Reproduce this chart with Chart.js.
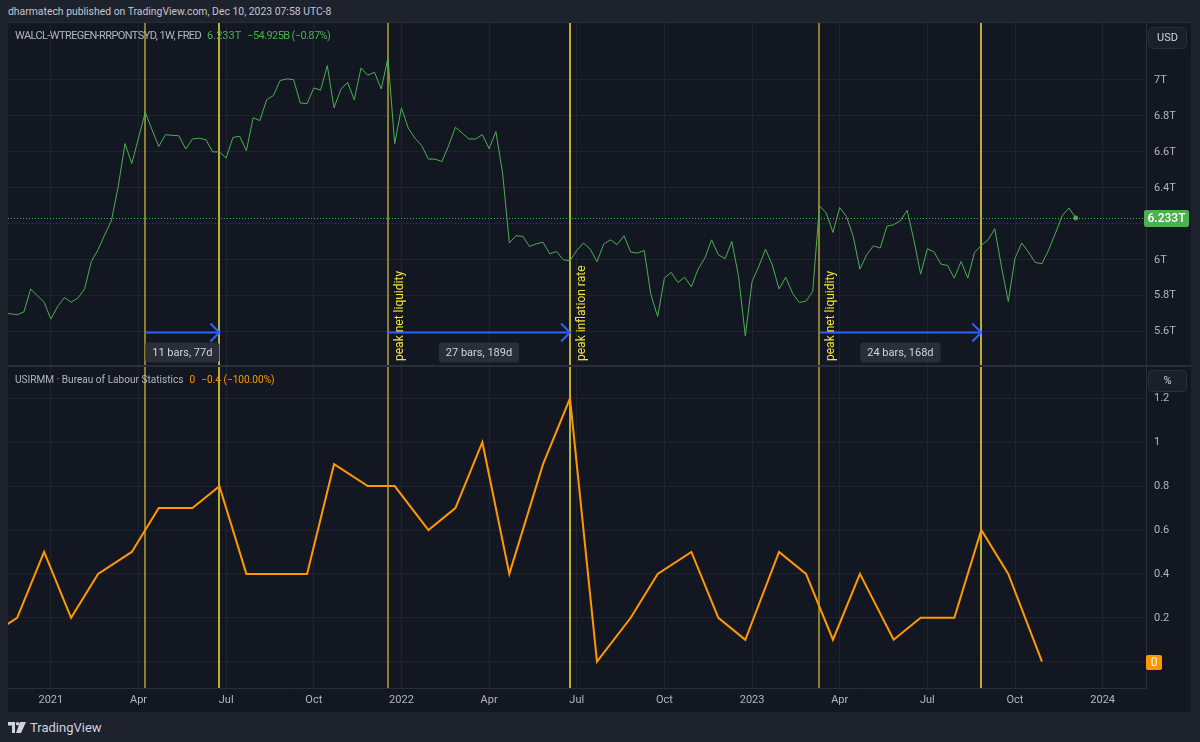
<!DOCTYPE html>
<html>
<head>
<meta charset="utf-8">
<title>Net liquidity vs inflation rate</title>
<script src="https://cdn.jsdelivr.net/npm/chart.js@4.4.1/dist/chart.umd.min.js"></script>
<style>
  html, body { margin: 0; padding: 0; }
  body { width: 1200px; height: 742px; background: #1e222d; position: relative; overflow: hidden;
         font-family: Roboto, "Noto Sans", sans-serif; }
  #frame { position: absolute; left: 8px; top: 22px; width: 1183px; height: 690px; background: #2a2e39; }
  canvas { position: absolute; left: 8px; background: #131722; }
  #top { top: 23px; }
  #bottom { top: 367px; }
  .txt { position: absolute; white-space: pre; line-height: 14px; color: #b2b5be; }
  #header { left: 8px; top: 5px; font-size: 10.4px; color: #c3c6ce; }
  #legendTop { left: 15px; top: 29px; font-size: 11px; }
  #nlName { letter-spacing: -0.6px; }
  #nlChange { letter-spacing: -0.6px; }
  #legendBottom { left: 15px; top: 373px; font-size: 10.1px; }
  .txt span + span { margin-left: 6px; }
  .up { color: #4caf50; }
  .orange { color: #ff9800; }
  #footer { position: absolute; left: 8px; top: 720px; height: 14px; display: flex; align-items: center;
            color: #d1d4dc; font-size: 13px; }
  #footer svg { margin-right: 4px; }
</style>
</head>
<body>
<div id="header" class="txt"></div>
<div id="frame"></div>
<canvas id="top" width="1183" height="342"></canvas>
<canvas id="bottom" width="1183" height="345"></canvas>
<div id="legendTop" class="txt"><span id="nlName"></span><span class="up" id="nlLast"></span><span class="up" id="nlChange"></span></div>
<div id="legendBottom" class="txt"><span id="irName"></span><span class="orange" id="irLast"></span><span class="orange" id="irChange"></span></div>
<div id="footer">
  <svg width="18" height="11" viewBox="0 0 18 11"><path d="M0 0H7V11H4V3.5H0Z M12 0H18L13 11H8Z" fill="#d1d4dc"/><circle cx="9.6" cy="1.8" r="1.8" fill="#d1d4dc"/></svg>
  <span id="brand"></span>
</div>
<script>
const headerText = 'dharmatech published on TradingView.com, Dec 10, 2023 07:58 UTC-8';
const brandText = 'TradingView';
const nlName = 'WALCL-WTREGEN-RRPONTSYD, 1W, FRED';
const nlLast = '6.233T';
const nlChange = '\u221254.925B (\u22120.87%)';
const irName = 'USIRMM \u00b7 Bureau of Labour Statistics';
const irLast = '0';
const irChange = '\u22120.4 (\u2212100.00%)';

// weekly net liquidity, trillions USD, one value per Monday from weekStart
const weekStart = '2020-11-16';
const netLiquidity = [
  5.70, 5.70, 5.694, 5.71, 5.837, 5.80, 5.764, 5.67, 5.74, 5.79,
  5.764, 5.787, 5.837, 5.99, 6.056, 6.14, 6.22, 6.41, 6.646, 6.535,
  6.677, 6.82, 6.724, 6.63, 6.696, 6.692, 6.69, 6.616, 6.672, 6.676,
  6.668, 6.60, 6.60, 6.566, 6.68, 6.687, 6.607, 6.79, 6.774, 6.89,
  6.913, 6.997, 7.006, 7.002, 6.872, 6.869, 6.956, 6.943, 7.08, 6.845,
  6.947, 6.987, 6.89, 7.067, 7.026, 7.043, 6.95, 7.123, 6.646, 6.845,
  6.733, 6.677, 6.635, 6.56, 6.56, 6.546, 6.635, 6.737, 6.705, 6.672,
  6.672, 6.696, 6.618, 6.713, 6.483, 6.093, 6.134, 6.13, 6.074, 6.089,
  6.097, 6.033, 6.046, 6.0, 5.994, 6.052, 6.093, 6.059, 5.99, 6.087,
  6.111, 6.084, 6.134, 6.043, 6.037, 6.052, 5.805, 5.684, 5.898, 5.93,
  5.874, 5.903, 5.85, 5.948, 6.009, 6.111, 6.028, 6.006, 6.102, 5.907,
  5.577, 5.879, 5.963, 6.059, 5.972, 5.837, 5.903, 5.814, 5.762, 5.77,
  5.824, 6.30, 6.26, 6.152, 6.291, 6.241, 6.13, 5.948, 6.028, 6.078,
  6.065, 6.186, 6.195, 6.217, 6.275, 6.111, 5.92, 6.061, 6.043, 5.976,
  5.968, 5.898, 5.99, 5.898, 6.041, 6.08, 6.111, 6.173, 5.959, 5.768,
  6.009, 6.093, 6.043, 5.985, 5.978, 6.056, 6.148, 6.245, 6.288, 6.233
];

// monthly inflation rate, %
const inflationMonths = [
  '2020-10', '2020-11', '2020-12', '2021-01', '2021-02', '2021-03', '2021-04', '2021-05', '2021-06',
  '2021-07', '2021-08', '2021-09', '2021-10', '2021-11', '2021-12', '2022-01', '2022-02', '2022-03',
  '2022-04', '2022-05', '2022-06', '2022-07', '2022-08', '2022-09', '2022-10', '2022-11', '2022-12',
  '2023-01', '2023-02', '2023-03', '2023-04', '2023-05', '2023-06', '2023-07', '2023-08', '2023-09',
  '2023-10'
];
const inflationRate = [
  0.1, 0.2, 0.5, 0.2, 0.4, 0.5, 0.7, 0.7, 0.8,
  0.4, 0.4, 0.4, 0.9, 0.8, 0.8, 0.6, 0.7, 1.0,
  0.4, 0.9, 1.2, 0.0, 0.2, 0.4, 0.5, 0.2, 0.1,
  0.5, 0.4, 0.1, 0.4, 0.1, 0.2, 0.2, 0.6, 0.4,
  0.0
];

const xTickDates = ['2021-01-04', '2021-04-05', '2021-07-05', '2021-10-04', '2022-01-03', '2022-04-04',
  '2022-07-04', '2022-10-03', '2023-01-02', '2023-04-03', '2023-07-03', '2023-10-02', '2024-01-01'];
const xTickLabels = ['2021', 'Apr', 'Jul', 'Oct', '2022', 'Apr', 'Jul', 'Oct', '2023', 'Apr', 'Jul', 'Oct', '2024'];
const usdTicks = [5.6, 5.8, 6, 6.2, 6.4, 6.6, 6.8, 7];
const pctTicks = [0, 0.2, 0.4, 0.6, 0.8, 1, 1.2];

// measured spans (start bar -> end bar) and the notes on them
const spanStarts = ['2021-04-12', '2021-12-20', '2023-03-13'];
const spanEnds = ['2021-06-28', '2022-06-27', '2023-08-28'];
const spanLabels = ['11 bars, 77d', '27 bars, 189d', '24 bars, 168d'];
const noteDates = ['2021-12-20', '2022-06-27', '2023-03-13'];
const noteTexts = ['peak net liquidity', 'peak inflation rate', 'peak net liquidity'];
const arrowLevel = 5.6;

const GRID = 'rgba(42,46,57,0.55)', BORDER = '#2a2e39', TXT = '#b2b5be';
const GREEN = '#4caf50', ORANGE = '#ff9800', BLUE = '#2962ff';
const YEL_DIM = '#b3a233', YEL = '#f2e23a';
const FONT = 'Roboto, "Noto Sans", sans-serif';

document.getElementById('header').textContent = headerText;
document.getElementById('brand').textContent = brandText;
document.getElementById('nlName').textContent = nlName;
document.getElementById('nlLast').textContent = nlLast;
document.getElementById('nlChange').textContent = nlChange;
document.getElementById('irName').textContent = irName;
document.getElementById('irLast').textContent = irLast;
document.getElementById('irChange').textContent = irChange;

const DAY = 86400000;
const EPOCH = Date.UTC(2021, 0, 1);
function dayOf(s) {
  const [y, m, d] = s.split('-').map(Number);
  return (Date.UTC(y, m - 1, d) - EPOCH) / DAY;
}
// a monthly print sits on the weekly bar (Monday) holding the month's last day
function monthBar(s) {
  const [y, m] = s.split('-').map(Number);
  const last = new Date(Date.UTC(y, m, 0));
  return (last.getTime() - EPOCH) / DAY - (last.getUTCDay() + 6) % 7;
}

Chart.defaults.font.family = FONT;
Chart.defaults.font.size = 11;
Chart.defaults.color = TXT;

function xAxis(showLabels) {
  return {
    type: 'linear', min: -41.5, max: 1140, bounds: 'data',
    afterBuildTicks: s => { s.ticks = xTickDates.map(d => ({ value: dayOf(d) })); },
    afterFit: s => { s.height = showLabels ? 24 : 0; s.paddingLeft = 0; s.paddingRight = 0; },
    grid: { color: GRID, drawTicks: false },
    border: { display: showLabels, color: BORDER },
    ticks: { display: showLabels, autoSkip: false, maxRotation: 0, padding: 6, color: TXT,
             callback: (v, i) => xTickLabels[i] }
  };
}
function yAxis(min, max, ticks, fmt) {
  return {
    position: 'right', min: min, max: max, bounds: 'data',
    afterBuildTicks: s => { s.ticks = ticks.map(v => ({ value: v })); },
    afterFit: s => { s.width = 45; s.paddingTop = 0; s.paddingBottom = 0; },
    grid: { color: GRID, drawTicks: false },
    border: { color: BORDER },
    ticks: { color: TXT, padding: 8, callback: fmt }
  };
}

// vertical yellow lines at every span start / end, through the whole pane
function drawMarkers(chart) {
  const { ctx, chartArea: a, scales: { x } } = chart;
  ctx.save();
  ctx.lineWidth = 1.5;
  spanStarts.forEach((d, i) => {
    [[d, YEL_DIM], [spanEnds[i], YEL]].forEach(([day, color]) => {
      const px = Math.round(x.getPixelForValue(dayOf(day)));
      ctx.strokeStyle = color;
      ctx.beginPath(); ctx.moveTo(px, a.top); ctx.lineTo(px, a.bottom); ctx.stroke();
    });
  });
  ctx.restore();
}

function axisBadge(ctx, text, x, y, w, h, fill, bold) {
  ctx.save();
  ctx.fillStyle = fill;
  ctx.beginPath(); ctx.roundRect(x, y, w, h, 2); ctx.fill();
  ctx.fillStyle = '#ffffff';
  ctx.font = (bold ? '500 ' : '') + '12px ' + FONT;
  ctx.textAlign = 'center'; ctx.textBaseline = 'middle';
  ctx.fillText(text, x + w / 2, y + h / 2 + 0.5);
  ctx.restore();
}
function unitBox(ctx, text, x, y) {
  ctx.save();
  ctx.fillStyle = '#1b1f2a';
  ctx.strokeStyle = BORDER;
  ctx.beginPath(); ctx.roundRect(x + 0.5, y + 0.5, 38, 21, 4); ctx.fill(); ctx.stroke();
  ctx.fillStyle = '#d1d4dc';
  ctx.font = '11px ' + FONT;
  ctx.textAlign = 'center'; ctx.textBaseline = 'middle';
  ctx.fillText(text, x + 19.5, y + 11.5);
  ctx.restore();
}

const topOverlay = {
  id: 'topOverlay',
  beforeDatasetsDraw(chart) {
    drawMarkers(chart);
    const { ctx, chartArea: a, scales: { y } } = chart;
    const ly = Math.round(y.getPixelForValue(netLiquidity[netLiquidity.length - 1])) + 0.5;
    ctx.save();
    ctx.strokeStyle = GREEN; ctx.lineWidth = 1; ctx.setLineDash([1, 2]);
    ctx.beginPath(); ctx.moveTo(a.left, ly); ctx.lineTo(a.right, ly); ctx.stroke();
    ctx.restore();
  },
  afterDatasetsDraw(chart) {
    const { ctx, chartArea: a, scales: { x, y } } = chart;
    const ay = Math.round(y.getPixelForValue(arrowLevel)) + 0.5;
    ctx.save();
    spanStarts.forEach((d, i) => {
      const x0 = x.getPixelForValue(dayOf(d));
      const x1 = x.getPixelForValue(dayOf(spanEnds[i]));
      ctx.strokeStyle = BLUE; ctx.lineWidth = 2;
      ctx.beginPath(); ctx.moveTo(x0, ay); ctx.lineTo(x1, ay); ctx.stroke();
      ctx.beginPath(); ctx.moveTo(x1 - 9, ay - 9); ctx.lineTo(x1, ay); ctx.lineTo(x1 - 9, ay + 9); ctx.stroke();
      ctx.font = '11px ' + FONT;
      const w = ctx.measureText(spanLabels[i]).width + 14;
      const cx = (x0 + x1) / 2;
      ctx.fillStyle = '#2a2e39';
      ctx.beginPath(); ctx.roundRect(cx - w / 2, ay + 10, w, 20, 3); ctx.fill();
      ctx.fillStyle = '#d1d4dc';
      ctx.textAlign = 'center'; ctx.textBaseline = 'middle';
      ctx.fillText(spanLabels[i], cx, ay + 20.5);
    });
    ctx.fillStyle = YEL;
    ctx.font = '12px ' + FONT;
    ctx.textAlign = 'left'; ctx.textBaseline = 'middle';
    noteDates.forEach((d, i) => {
      const px = x.getPixelForValue(dayOf(d));
      ctx.save();
      ctx.translate(px + 12, a.bottom - 4);
      ctx.rotate(-Math.PI / 2);
      ctx.fillText(noteTexts[i], 0, 0);
      ctx.restore();
    });
    ctx.restore();
  },
  afterDraw(chart) {
    const { ctx, chartArea: a, scales: { y } } = chart;
    unitBox(ctx, 'USD', a.right + 2, 4);
    const ly = y.getPixelForValue(netLiquidity[netLiquidity.length - 1]);
    axisBadge(ctx, nlLast, a.right - 2, Math.round(ly) - 8, 45, 17, GREEN, true);
  }
};

const bottomOverlay = {
  id: 'bottomOverlay',
  beforeDatasetsDraw(chart) { drawMarkers(chart); },
  afterDraw(chart) {
    const { ctx, chartArea: a, scales: { y } } = chart;
    unitBox(ctx, '%', a.right + 2, 3);
    const ly = y.getPixelForValue(inflationRate[inflationRate.length - 1]);
    axisBadge(ctx, irLast, a.right, Math.round(ly) - 7, 16, 15, ORANGE, false);
  }
};

const baseOptions = {
  responsive: false, animation: false, events: [],
  layout: { padding: 0, autoPadding: false },
  plugins: { legend: { display: false }, tooltip: { enabled: false } }
};

new Chart(document.getElementById('top'), {
  type: 'line',
  data: {
    datasets: [{
      label: nlName,
      data: netLiquidity.map((v, i) => ({ x: dayOf(weekStart) + 7 * i, y: v })),
      borderColor: GREEN, backgroundColor: GREEN, borderWidth: 1, tension: 0,
      pointRadius: c => (c.dataIndex === netLiquidity.length - 1 ? 2 : 0)
    }]
  },
  options: Object.assign({}, baseOptions, {
    scales: {
      x: xAxis(false),
      y: yAxis(5.4147, 7.317, usdTicks, v => v + 'T')
    }
  }),
  plugins: [topOverlay]
});

new Chart(document.getElementById('bottom'), {
  type: 'line',
  data: {
    datasets: [{
      label: irName,
      data: inflationMonths.map((m, i) => ({ x: monthBar(m), y: inflationRate[i] })),
      borderColor: ORANGE, borderWidth: 2, tension: 0, pointRadius: 0
    }]
  },
  options: Object.assign({}, baseOptions, {
    scales: {
      x: xAxis(true),
      y: yAxis(-0.1198, 1.3426, pctTicks, v => String(v))
    }
  }),
  plugins: [bottomOverlay]
});
</script>
</body>
</html>
